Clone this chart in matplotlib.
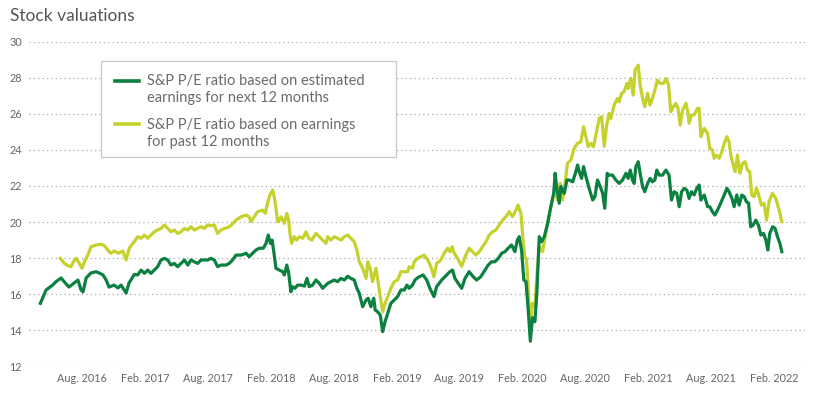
import numpy as np
import pandas as pd
import matplotlib
matplotlib.use("Agg")
import matplotlib.pyplot as plt
from matplotlib.patches import Rectangle
from matplotlib.lines import Line2D

plt.rcParams['font.family'] = ['Lato', 'DejaVu Sans']

# weeks counted from 2016-04-01
start = pd.Timestamp('2016-04-01')

fwd_weeks = [0, 2.4, 5.1, 6.5, 8.6, 10.7, 11.9, 14.0, 15.6, 16.9, 17.7, 19.0, 21.0, 23.1, 24.4, 26.0,
             27.3, 28.5, 30.6, 32.2, 33.5, 35.6, 36.8, 39.0, 40.4, 41.8, 43.2, 44.6, 45.9, 47.3, 48.7,
             50.1, 51.5, 52.9, 54.2, 55.6, 57.0, 58.4, 59.8, 61.2, 62.5, 63.9, 65.3, 66.7, 68.1, 69.5,
             70.8, 72.2, 73.6, 75.0, 77.1, 78.4, 79.8, 81.2, 83.3, 85.4, 86.7, 88.1, 89.5, 90.9, 92.5,
             93.7, 94.6, 95.5, 96.2, 96.9, 97.8, 99.2, 100.6, 101.3, 102.3, 103.1, 104.0, 104.7, 105.7,
             106.8, 108.2, 109.6, 110.7, 111.6, 113.0, 114.4, 115.8, 117.2, 119.3, 120.6, 122.0, 123.4,
             124.8, 126.2, 127.6, 128.9, 130.3, 131.4, 132.4, 133.8, 135.2, 136.1, 137.2, 138.4, 139.0,
             140.0, 141.1, 142.1, 143.1, 144.2, 145.5, 146.9, 148.3, 149.7, 151.1, 152.2, 153.1, 154.5,
             155.5, 156.9, 158.9, 160.4, 161.7, 163.4, 164.5, 166.6, 168.7, 170.0, 171.1, 172.1, 173.5,
             174.9, 176.3, 178.0, 179.7, 181.1, 182.8, 184.6, 185.9, 187.3, 188.7, 190.1, 191.5, 192.9,
             194.2, 195.6, 197.0, 198.0, 198.8, 199.8, 200.7, 201.6, 202.5, 203.4, 204.3, 205.3, 206.1,
             207.1, 208.1, 209.2, 210.6, 211.9, 213.1, 213.7, 214.4, 215.4, 216.1, 216.8, 217.5, 218.6,
             219.5, 221.0, 222.3, 223.0, 223.7, 224.7, 225.5, 226.5, 227.8, 229.3, 230.2, 231.3, 232.4,
             233.4, 234.3, 235.3, 236.1, 237.5, 238.9, 240.3, 241.7, 243.1, 244.0, 244.9, 245.8, 246.5,
             247.2, 248.2, 249.0, 250.0, 250.9, 252.1, 253.1, 254.1, 255.1, 255.9, 256.9, 258.3, 259.7,
             261.0, 262.0, 263.1, 264.2, 265.2, 266.2, 267.3, 268.4, 269.3, 270.3, 271.4, 272.5, 273.5,
             274.2, 275.6, 277.0, 277.9, 279.0, 280.0, 281.1, 282.4, 283.9, 285.0, 285.9, 287.1, 288.0,
             289.1, 290.1, 291.2, 292.2, 293.1, 294.0, 294.9, 295.9, 297.0, 298.1, 299.1, 300.2, 301.2,
             302.0, 302.8, 304.0, 305.0, 306.0, 307.0, 307.8]
fwd_pe = [15.50, 16.24, 16.51, 16.70, 16.90, 16.57, 16.40, 16.62, 16.79, 16.24, 16.13, 16.90, 17.18,
          17.25, 17.18, 17.07, 16.79, 16.40, 16.51, 16.35, 16.51, 16.07, 16.62, 17.10, 17.07, 17.34,
          17.16, 17.34, 17.16, 17.34, 17.53, 17.90, 17.99, 17.90, 17.62, 17.71, 17.53, 17.71, 17.90,
          17.62, 17.90, 17.80, 17.71, 17.90, 17.90, 17.90, 17.99, 17.90, 17.53, 17.62, 17.62, 17.71,
          17.90, 18.17, 18.17, 18.27, 18.08, 18.27, 18.45, 18.55, 18.55, 18.82, 19.28, 18.82, 19.00,
          18.36, 17.44, 17.34, 17.25, 17.07, 17.62, 17.16, 16.14, 16.42, 16.33, 16.51, 16.51, 16.45,
          16.88, 16.42, 16.51, 16.79, 16.61, 16.33, 16.61, 16.70, 16.79, 16.70, 16.88, 16.79, 17.00,
          16.88, 16.79, 16.33, 16.05, 15.31, 15.68, 15.78, 15.31, 15.78, 15.13, 15.03, 14.85, 13.93,
          14.48, 14.95, 15.50, 15.68, 15.87, 16.24, 16.24, 16.51, 16.33, 16.51, 16.79, 16.94, 17.07,
          16.79, 16.33, 15.87, 16.42, 16.79, 17.07, 17.25, 17.34, 16.88, 16.61, 16.33, 16.88, 17.25,
          16.97, 16.79, 16.97, 17.34, 17.62, 17.80, 17.80, 17.99, 18.27, 18.36, 18.55, 18.73, 18.36,
          19.00, 19.19, 18.40, 16.79, 16.70, 15.20, 13.40, 14.70, 14.48, 16.05, 19.19, 18.91, 19.19,
          19.93, 20.85, 21.59, 22.70, 21.87, 21.04, 21.97, 21.77, 21.59, 22.33, 22.33, 22.23, 22.79,
          23.16, 22.79, 22.42, 23.07, 22.51, 21.87, 21.22, 21.40, 22.33, 21.97, 21.60, 20.76, 22.70,
          22.60, 22.60, 22.33, 22.14, 22.33, 22.70, 22.42, 22.88, 22.33, 22.14, 23.06, 23.34, 22.70,
          21.96, 21.68, 22.14, 22.42, 22.23, 22.33, 22.88, 22.60, 22.60, 22.88, 22.60, 21.22, 21.68,
          21.59, 20.85, 21.68, 21.87, 21.77, 21.31, 21.68, 21.50, 21.87, 22.05, 21.22, 21.50, 20.85,
          20.85, 20.57, 20.39, 20.66, 21.04, 21.50, 21.87, 21.68, 21.31, 20.85, 21.50, 20.94, 21.50,
          21.40, 21.13, 21.04, 19.74, 19.83, 20.11, 19.83, 19.28, 19.37, 19.00, 18.45, 19.37, 19.74,
          19.65, 19.19, 18.82, 18.36]

ttm_weeks = [8.3, 10.0, 11.4, 12.7, 13.7, 14.8, 16.2, 17.3, 18.3, 19.7, 21.0, 23.1, 25.2, 26.6, 28.0,
             29.3, 30.7, 32.5, 34.2, 35.6, 36.9, 38.3, 39.0, 40.4, 41.8, 43.2, 44.6, 45.9, 47.3, 48.7,
             50.1, 51.5, 52.9, 54.2, 55.6, 57.0, 58.4, 59.8, 61.2, 62.5, 63.9, 65.3, 66.7, 68.1, 69.5,
             70.8, 72.2, 73.6, 75.0, 76.4, 77.8, 79.1, 81.2, 83.3, 85.4, 86.7, 87.4, 88.8, 90.2, 92.3,
             93.4, 94.4, 95.3, 96.4, 97.1, 97.8, 98.5, 99.2, 99.9, 100.6, 101.3, 102.3, 103.1, 103.6,
             104.3, 105.4, 106.4, 107.5, 108.9, 110.3, 111.4, 112.7, 114.4, 115.8, 117.2, 118.6, 119.3,
             120.6, 122.0, 123.4, 124.8, 126.2, 127.6, 128.9, 130.3, 131.4, 132.4, 133.8, 135.2, 135.9,
             136.9, 137.9, 139.3, 140.3, 141.1, 142.1, 143.1, 144.2, 145.5, 146.9, 148.3, 149.7, 151.1,
             152.5, 153.1, 154.5, 155.2, 156.6, 158.0, 159.3, 160.8, 162.1, 163.4, 164.5, 166.3, 167.6,
             169.1, 170.1, 171.0, 171.8, 173.2, 174.9, 176.6, 178.0, 179.4, 180.8, 182.2, 183.6, 185.0,
             186.3, 187.7, 189.1, 190.5, 191.9, 193.2, 194.6, 196.0, 197.4, 198.3, 199.5, 200.4, 201.1,
             201.8, 202.5, 203.4, 204.3, 205.3, 206.1, 207.1, 208.5, 209.8, 211.2, 212.6, 213.7, 214.7,
             215.8, 216.8, 217.8, 218.8, 220.2, 221.6, 223.0, 224.4, 225.5, 226.5, 227.4, 228.5, 229.6,
             231.0, 232.0, 233.0, 234.1, 235.0, 236.1, 236.8, 238.2, 239.6, 240.3, 241.3, 242.3, 243.5,
             244.0, 245.1, 246.1, 246.9, 248.2, 249.0, 250.0, 250.9, 252.1, 253.1, 254.1, 255.1, 256.2,
             257.3, 258.7, 259.7, 260.8, 261.7, 262.8, 263.8, 264.7, 265.6, 266.6, 268.0, 268.9, 269.3,
             270.3, 271.4, 272.8, 273.5, 274.2, 275.6, 277.0, 277.9, 279.0, 279.7, 280.7, 281.8, 282.9,
             283.9, 285.0, 285.9, 286.6, 287.6, 288.4, 289.4, 290.4, 291.5, 292.6, 293.5, 294.5, 295.3,
             296.3, 297.3, 298.4, 299.3, 300.4, 301.5, 302.5, 303.9, 305.3, 306.7, 307.8]
ttm_pe = [17.99, 17.71, 17.58, 17.53, 17.80, 17.99, 17.71, 17.44, 17.80, 18.17, 18.63, 18.73, 18.77,
          18.69, 18.45, 18.27, 18.40, 18.27, 18.40, 17.90, 18.55, 18.80, 18.91, 19.19, 19.10, 19.28,
          19.10, 19.28, 19.46, 19.56, 19.65, 19.84, 19.65, 19.46, 19.56, 19.37, 19.46, 19.65, 19.56,
          19.74, 19.56, 19.65, 19.74, 19.65, 19.84, 19.80, 19.84, 19.37, 19.56, 19.65, 19.70, 19.80,
          20.11, 20.29, 20.39, 20.29, 20.02, 20.29, 20.57, 20.66, 20.48, 21.12, 21.50, 21.77, 21.40,
          20.76, 20.02, 20.11, 20.29, 20.11, 19.93, 20.48, 20.11, 19.37, 18.82, 19.19, 19.00, 19.19,
          19.10, 19.46, 19.10, 19.00, 19.37, 19.19, 19.00, 18.82, 19.19, 19.00, 19.19, 19.10, 19.00,
          19.19, 19.28, 19.10, 18.91, 18.45, 17.80, 17.44, 16.88, 17.80, 17.44, 16.70, 17.44, 16.61,
          15.87, 15.03, 15.50, 15.87, 16.33, 16.70, 16.79, 17.25, 17.25, 17.25, 17.53, 17.44, 17.80,
          17.99, 18.08, 18.17, 17.90, 17.53, 16.97, 17.71, 17.90, 18.27, 18.55, 18.36, 18.63, 18.27,
          17.99, 17.55, 18.17, 18.55, 18.36, 18.17, 18.36, 18.63, 18.91, 19.28, 19.46, 19.56, 19.84,
          20.11, 20.29, 20.57, 20.30, 20.66, 20.94, 20.48, 19.00, 18.08, 17.95, 16.42, 14.20, 15.50,
          15.31, 16.97, 18.63, 18.36, 19.37, 20.39, 21.22, 21.87, 21.22, 22.14, 21.22, 22.14, 23.25,
          23.43, 24.08, 24.36, 24.45, 25.28, 24.72, 24.17, 24.36, 24.17, 25.10, 25.74, 25.83, 24.20,
          25.28, 26.02, 25.74, 26.48, 26.85, 26.66, 27.13, 27.22, 27.68, 27.40, 27.96, 27.03, 28.42,
          28.69, 27.59, 26.85, 26.39, 27.13, 26.48, 26.85, 27.31, 27.86, 27.68, 27.68, 27.96, 27.59,
          26.11, 26.39, 26.57, 26.30, 25.37, 26.20, 26.57, 26.02, 25.47, 25.93, 25.93, 26.30, 26.30,
          24.73, 25.19, 24.91, 24.08, 23.99, 23.53, 23.71, 23.53, 23.89, 24.36, 24.73, 24.45, 23.71,
          23.16, 22.79, 23.71, 22.70, 23.25, 23.34, 22.88, 22.79, 21.50, 21.40, 21.87, 21.40, 20.94,
          21.04, 20.11, 21.13, 21.59, 21.31, 20.66, 20.02]

tick_dates = ['2016-08-01', '2017-02-01', '2017-08-01', '2018-02-01', '2018-08-01', '2019-02-01',
              '2019-08-01', '2020-02-01', '2020-08-01', '2021-02-01', '2021-08-01', '2022-02-01']
tick_labels = ['Aug. 2016', 'Feb. 2017', 'Aug. 2017', 'Feb. 2018', 'Aug. 2018', 'Feb. 2019',
               'Aug. 2019', 'Feb. 2020', 'Aug. 2020', 'Feb. 2021', 'Aug. 2021', 'Feb. 2022']

fwd_label = 'S&P P/E ratio based on estimated\nearnings for next 12 months'
ttm_label = 'S&P P/E ratio based on earnings\nfor past 12 months'
fwd_color = '#0b8040'
ttm_color = '#c5d22d'

fwd_dates = start + pd.to_timedelta(np.array(fwd_weeks) * 7, unit='D')
ttm_dates = start + pd.to_timedelta(np.array(ttm_weeks) * 7, unit='D')

W, H = 819, 393
fig = plt.figure(figsize=(W / 100, H / 100), dpi=100)
ax = fig.add_axes([29 / W, 26.5 / H, 776 / W, 325 / H])

ax.plot(ttm_dates, ttm_pe, color=ttm_color, lw=2.3, solid_joinstyle='round', zorder=3)
ax.plot(fwd_dates, fwd_pe, color=fwd_color, lw=2.3, solid_joinstyle='round', zorder=4)

ax.set_ylim(12, 30)
ax.set_yticks(range(12, 31, 2))
ax.set_xlim(pd.Timestamp('2016-02-28'), pd.Timestamp('2022-05-02'))
ax.set_xticks(pd.to_datetime(tick_dates))
ax.set_xticklabels(tick_labels)

ax.grid(axis='y', linestyle=(0, (1, 2.5)), color='#a8a8a8', lw=0.9)
ax.set_axisbelow(True)
for s in ax.spines.values():
    s.set_visible(False)
ax.tick_params(axis='both', length=0, labelsize=7.8, labelcolor='#666666')
ax.tick_params(axis='x', pad=4.5)
ax.tick_params(axis='y', pad=5)

# legend box drawn by hand so the swatch sits on the first text line
def px(x, y):
    return x / W, 1 - y / H

fig.patches.append(Rectangle(px(101, 156.7), 294.7 / W, 96 / H, transform=fig.transFigure,
                             facecolor='white', edgecolor='#c8c8c8', lw=0.9, zorder=5))
for (yl, lab, col) in [(80.5, fwd_label, fwd_color), (124.5, ttm_label, ttm_color)]:
    (x0, y0), (x1, _) = px(114.5, yl), px(139, yl)
    fig.lines.append(Line2D([x0, x1], [y0, y0], transform=fig.transFigure, color=col,
                            lw=2.6, zorder=6))
    tx, ty = px(147.3, yl - 6)
    fig.text(tx, ty, lab, fontsize=10.5, color='#6b6b6b', va='top', ha='left', zorder=6)

fig.text(10 / W, 1 - 16 / H, 'Stock valuations', fontsize=12.5, color='#555555',
         va='center', ha='left')

fig.savefig('out.png', dpi=100)
